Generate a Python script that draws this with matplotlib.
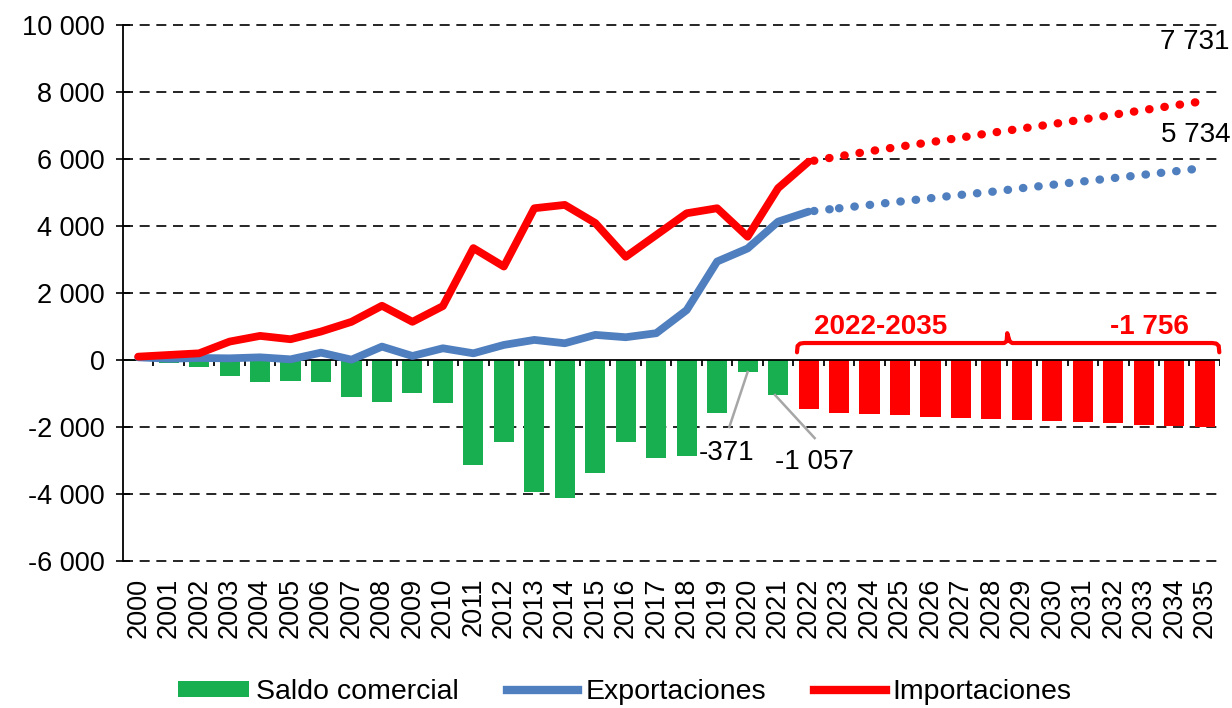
import matplotlib
matplotlib.use("Agg")
import matplotlib.pyplot as plt
from matplotlib.patches import Patch
from matplotlib.lines import Line2D

plt.rcParams['font.family'] = ['Liberation Sans', 'DejaVu Sans']

years = list(range(2000, 2036))
saldo_hist = [-20, -80, -200, -480, -660, -630, -650, -1100, -1250, -975, -1270,
              -3130, -2440, -3950, -4130, -3360, -2440, -2915, -2865, -1590, -371, -1057]
saldo_proj = [-1470, -1570, -1610, -1650, -1690, -1720, -1750, -1780, -1820, -1860,
              -1890, -1930, -1970, -2000]
export_hist = [80, 40, 60, 50, 80, 20, 220, 10, 400, 120, 350, 200, 450, 600, 500,
               750, 680, 800, 1490, 2940, 3330, 4130, 4430]
export_proj = [4430, 4530, 4630, 4730, 4830, 4930, 5020, 5130, 5230, 5330, 5430,
               5530, 5630, 5734]
import_hist = [100, 150, 200, 550, 720, 620, 850, 1140, 1620, 1140, 1610, 3340, 2790,
               4530, 4630, 4090, 3080, 3730, 4380, 4530, 3680, 5130, 5920]
import_proj = [5920, 6080, 6230, 6370, 6500, 6640, 6780, 6910, 7040, 7180, 7320,
               7460, 7600, 7731]
yticks = [-6000, -4000, -2000, 0, 2000, 4000, 6000, 8000, 10000]
ytick_labels = ['-6 000', '-4 000', '-2 000', '0', '2 000', '4 000', '6 000', '8 000', '10 000']

GREEN = '#17AF4F'
RED = '#FF0000'
BLUE = '#4F7FBE'

fig = plt.figure(figsize=(12.32, 7.08), dpi=100)
ax = fig.add_axes([0.0998, 0.2076, 0.8904, 0.7571])

x_hist = list(range(len(saldo_hist)))
x_proj = list(range(len(saldo_hist), len(saldo_hist) + len(saldo_proj)))
ax.bar(x_hist, saldo_hist, width=0.66, color=GREEN, zorder=2)
ax.bar(x_proj, saldo_proj, width=0.66, color=RED, zorder=2)

xe = list(range(len(export_hist)))
xp = list(range(len(export_hist) - 1, len(export_hist) - 1 + len(export_proj)))
ax.plot(xe, export_hist, color=BLUE, lw=5.6, solid_capstyle='round', solid_joinstyle='round', zorder=4)
ax.plot(xe, import_hist, color=RED, lw=5.6, solid_capstyle='round', solid_joinstyle='round', zorder=5)
ax.plot(xp[1:], export_proj[1:], color=BLUE, lw=6, linestyle=(0, (0.05, 1.8)),
        dash_capstyle='round', zorder=4)
ax.plot(xp, import_proj, color=RED, lw=6, linestyle=(1.2, (0.05, 1.8)),
        dash_capstyle='round', zorder=5)
ax.plot(xp[:2], export_proj[:2], color=BLUE, lw=6, linestyle=(1.2, (0.05, 1.8)),
        dash_capstyle='round', zorder=4)

# gridlines
for yv in yticks:
    if yv == 0:
        continue
    ax.axhline(yv, color='black', lw=1.2, linestyle=(0, (6, 4)), zorder=1, clip_on=False)
ax.axhline(0, color='black', lw=1.3, zorder=3)
# category boundary ticks on zero line
ax.vlines([k + 0.5 for k in range(len(years))], -180, 0, color='black', lw=1.3, zorder=3)

ax.set_xlim(-0.5, 35.5)
ax.set_ylim(-6000, 10000)
ax.set_yticks(yticks)
ax.set_yticklabels(ytick_labels, fontsize=19.5)
ax.set_xticks(range(len(years)))
ax.set_xticklabels([str(y) for y in years], rotation=90, fontsize=19.5)
ax.tick_params(axis='x', length=0, pad=12)
ax.tick_params(axis='y', direction='inout', length=10, width=1.2, pad=8)
for s in ['top', 'right', 'bottom']:
    ax.spines[s].set_visible(False)
ax.spines['left'].set_linewidth(1.3)

# annotations
ax.plot([20.0, 19.4], [-358, -2000], color='#A6A6A6', lw=1.8, zorder=3)
ax.text(19.3, -2780, '-371', fontsize=20, ha='center', va='center')
ax.plot([20.9, 22.2], [-1045, -2330], color='#A6A6A6', lw=1.8, zorder=3)
ax.text(22.2, -3040, '-1 057', fontsize=20, ha='center', va='center')
ax.text(35.8, 9500, '7 731', fontsize=20, ha='right', va='center', clip_on=False)
ax.text(35.85, 6720, '5 734', fontsize=20, ha='right', va='center', clip_on=False)

# bracket
bx = [21.62, 21.64, 21.72, 21.85, 28.42, 28.5, 28.52, 28.6, 28.68, 35.25, 35.38, 35.46, 35.48]
by = [230, 420, 490, 507, 507, 560, 800, 560, 507, 507, 490, 420, 230]
ax.plot(bx, by, color=RED, lw=3, solid_joinstyle='round', solid_capstyle='round',
        zorder=6, clip_on=False)
ax.text(24.35, 985, '2022-2035', color=RED, fontsize=20, fontweight='bold',
        ha='center', va='center')
ax.text(33.2, 985, '-1 756', color=RED, fontsize=20, fontweight='bold',
        ha='center', va='center')

handles = [Patch(facecolor=GREEN, edgecolor='none'),
           Line2D([0], [0], color=BLUE, lw=6),
           Line2D([0], [0], color=RED, lw=6)]
fig.legend(handles, ['Saldo comercial', 'Exportaciones', 'Importaciones'],
           loc='center', bbox_to_anchor=(0.507, 0.0226), ncol=3, frameon=False,
           fontsize=20.5, handlelength=2.5, handleheight=0.45, handletextpad=0.25,
           columnspacing=1.7, borderaxespad=0, borderpad=0)

fig.savefig('out.png', dpi=100)
